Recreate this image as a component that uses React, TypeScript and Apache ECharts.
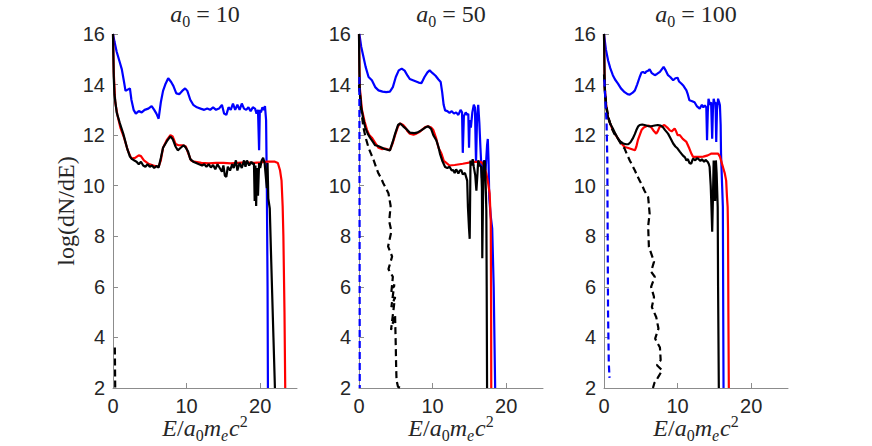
import React, { useEffect, useRef } from "react";
import * as echarts from "echarts";

// ---------- data ----------
const panelTitles = ["10", "50", "100"];
const xMin = 0, xMax = 25, xStep = 10;
const yMin = 2, yMax = 16, yStep = 2;

const blue10 = [[0,16],[0.2,15.7],[0.5,15.3],[0.9,14.9],[1.2,14.6],[1.5,14.1],[1.7,13.75],[2.0,13.8],[2.3,13.85],[2.5,13.4],[2.8,13.0],[3.1,12.85],[3.5,12.95],[3.9,12.9],[4.3,13.0],[4.8,13.05],[5.25,13.15],[5.6,13.0],[5.9,12.85],[6.2,12.65],[6.5,13.3],[6.8,13.75],[7.1,14.0],[7.5,14.25],[7.9,14.1],[8.2,13.95],[8.6,13.65],[9.0,13.62],[9.4,13.75],[9.8,13.85],[10.1,13.75],[10.5,13.4],[10.9,13.2],[11.4,13.1],[11.9,13.05],[12.4,13.0],[12.8,13.05],[13.2,13.0],[13.6,13.1],[14.0,13.0],[14.4,13.05],[14.8,13.2],[15.1,12.85],[15.4,12.8],[15.7,13.1],[16.0,13.0],[16.3,13.25],[16.6,13.0],[16.9,13.2],[17.2,13.0],[17.5,13.25],[17.8,13.05],[18.1,13.0],[18.4,13.1],[18.7,12.95],[19.0,13.1],[19.3,13.05],[19.5,12.85],[19.7,13.0],[19.85,11.4],[19.95,13.0],[20.1,12.9],[20.3,13.1],[20.5,13.0],[20.65,13.15],[20.8,12.6],[20.9,10],[21.0,6],[21.05,2]];
const red10 = [[0,16],[0.1,14.5],[0.3,13.3],[0.6,12.8],[1.0,12.3],[1.5,11.9],[2.0,11.4],[2.5,11.07],[3.0,11.1],[3.5,11.2],[3.8,11.17],[4.2,11.0],[4.8,10.87],[5.5,10.8],[6.2,10.75],[6.5,11.0],[6.8,11.5],[7.3,11.8],[7.8,12.0],[8.1,11.95],[8.5,11.65],[8.9,11.6],[9.5,11.6],[9.9,11.55],[10.2,11.3],[10.6,11.0],[11.0,10.95],[12,10.9],[13,10.88],[14,10.9],[15,10.9],[16,10.88],[17,10.9],[18,10.92],[19,10.9],[20,10.92],[21,10.95],[22.0,10.95],[22.4,10.9],[22.7,10.6],[22.9,10.2],[23.05,9.2],[23.15,8.0],[23.3,5],[23.4,2]];
const black10 = [[0,16],[0.1,14.3],[0.2,13.6],[0.5,12.9],[0.9,12.5],[1.4,12.05],[1.9,11.5],[2.3,11.15],[2.6,11.05],[2.9,11.0],[3.2,10.95],[3.5,10.85],[3.8,10.95],[4.1,10.8],[4.4,10.75],[4.7,10.85],[5.0,10.75],[5.3,10.8],[5.6,10.7],[5.9,10.78],[6.2,10.72],[6.5,11.1],[6.8,11.5],[7.3,11.75],[7.8,11.95],[8.1,11.85],[8.5,11.55],[8.8,11.4],[9.2,11.5],[9.6,11.6],[9.9,11.5],[10.2,11.35],[10.5,11.05],[10.9,10.95],[11.3,10.9],[11.7,10.85],[12.1,10.8],[12.4,10.85],[12.7,10.75],[13.0,10.85],[13.3,10.72],[13.6,10.82],[13.9,10.65],[14.2,10.85],[14.5,10.7],[14.8,10.55],[15.0,10.8],[15.2,10.4],[15.4,10.35],[15.6,10.75],[15.9,10.6],[16.2,10.85],[16.4,10.7],[16.7,11.0],[16.9,10.6],[17.2,10.9],[17.5,10.7],[17.8,11.0],[18.0,10.75],[18.2,11.0],[18.5,10.8],[18.8,10.95],[19.0,10.85],[19.15,10.9],[19.25,9.4],[19.35,10.8],[19.45,9.2],[19.55,10.7],[19.7,9.6],[19.85,10.9],[20.0,10.7],[20.2,11.0],[20.4,11.1],[20.6,10.9],[20.75,10.4],[20.9,9.9],[21.0,10.9],[21.1,9.5],[21.3,9.1],[21.5,7],[21.8,4],[22.0,2]];
const dash10 = [[0.25,3.6],[0.3,2]];
const blueDash10: number[][] = [];

const blue50 = [[0.05,16],[0.3,15.5],[0.6,15.1],[0.9,14.7],[1.3,14.3],[1.75,14.17],[2.2,13.9],[2.65,13.77],[3.2,13.72],[3.7,13.7],[4.2,13.72],[4.6,13.9],[5.0,14.3],[5.4,14.56],[5.8,14.63],[6.2,14.55],[6.6,14.35],[6.9,14.22],[7.5,14.15],[8.1,14.08],[8.5,14.06],[8.9,14.3],[9.3,14.48],[9.6,14.56],[10.0,14.45],[10.4,14.35],[10.8,14.2],[11.1,14.1],[11.3,13.7],[11.5,13.2],[11.7,12.98],[12.0,12.95],[12.3,12.88],[12.6,12.95],[12.9,12.85],[13.2,12.9],[13.5,12.8],[13.8,13.0],[14.0,12.9],[14.1,11.3],[14.25,12.75],[14.5,12.9],[14.7,12.8],[14.85,12.85],[14.95,11.5],[15.05,12.6],[15.2,12.3],[15.4,12.9],[15.6,13.2],[15.75,13.1],[15.9,10.9],[16.05,12.8],[16.2,13.2],[16.35,12.5],[16.5,11.5],[16.7,10.3],[16.85,10.9],[17.0,11.0],[17.2,10.6],[17.4,11.6],[17.5,11.85],[17.6,11.0],[17.7,9.5],[17.9,8.8],[18.1,8.3],[18.3,6],[18.5,2]];
const red50 = [[0,16],[0.1,13.9],[0.4,13.0],[0.75,12.55],[1.1,12.2],[1.4,12.0],[1.75,11.9],[2.2,11.7],[2.65,11.5],[3.1,11.45],[3.55,11.47],[4.2,11.4],[4.6,11.7],[4.9,12.0],[5.3,12.35],[5.6,12.46],[6.0,12.4],[6.3,12.3],[6.6,12.15],[6.9,12.06],[7.4,12.02],[7.8,12.06],[8.2,12.12],[8.5,12.2],[9.0,12.32],[9.4,12.35],[9.8,12.3],[10.1,12.2],[10.5,11.86],[10.8,11.5],[11.2,11.27],[11.5,11.0],[11.7,10.94],[12.3,10.8],[13.0,10.82],[14.1,10.87],[15.5,10.94],[16.6,10.94],[17.0,10.8],[17.3,10.48],[17.55,10.1],[17.75,9.7],[17.9,8.6],[17.95,5],[17.97,2]];
const black50 = [[0,16],[0.05,14.5],[0.1,13.77],[0.3,13.1],[0.55,12.7],[0.85,12.3],[1.2,12.05],[1.5,11.9],[1.85,11.75],[2.2,11.6],[2.5,11.58],[2.9,11.53],[3.5,11.45],[4.2,11.4],[4.6,11.75],[4.9,12.05],[5.3,12.4],[5.6,12.46],[6.0,12.35],[6.4,12.25],[6.9,12.1],[7.5,12.08],[7.9,12.1],[8.5,12.2],[9.0,12.3],[9.4,12.35],[9.8,12.25],[10.1,12.0],[10.5,11.8],[10.8,11.53],[11.0,11.27],[11.3,11.0],[11.7,10.74],[12.0,10.7],[12.3,10.75],[12.6,10.6],[12.8,10.62],[13.0,10.5],[13.2,10.65],[13.5,10.48],[13.7,10.6],[13.9,10.62],[14.1,10.45],[14.4,10.5],[14.6,10.3],[14.7,10.2],[14.8,9.16],[14.95,8.3],[15.04,7.9],[15.1,9.5],[15.15,11.0],[15.3,10.8],[15.45,11.05],[15.6,10.74],[15.8,10.4],[15.95,9.8],[16.1,10.5],[16.2,11.0],[16.4,10.8],[16.6,10.74],[16.7,9.9],[16.75,7.13],[16.85,9.5],[16.95,10.9],[17.1,11.0],[17.2,10.2],[17.3,9.0],[17.35,6],[17.4,2]];
const dash50 = [[0,14.0],[0.3,13.0],[0.6,12.3],[0.95,11.85],[1.3,11.5],[1.65,11.25],[2.0,11.0],[2.3,10.75],[2.65,10.48],[3.0,10.3],[3.3,10.1],[3.65,9.9],[4.0,9.7],[4.3,9.2],[4.1,8.6],[4.4,8.2],[3.95,7.6],[4.5,7.2],[4.0,6.7],[4.6,6.4],[4.4,5.8],[4.8,6.1],[4.4,5.2],[4.9,5.6],[4.35,4.3],[4.9,4.9],[5.0,3.6],[5.05,2.8],[5.1,2.3],[5.3,2.05],[5.6,2.0]];
const blueDash50 = [[0.05,14.3],[0.08,8],[0.1,2]];

const blue100 = [[0,16],[0.25,15.4],[0.55,14.96],[0.85,14.65],[1.2,14.37],[1.5,14.2],[1.9,14.04],[2.3,13.85],[2.8,13.7],[3.2,13.62],[3.5,13.6],[3.9,13.68],[4.2,13.77],[4.5,14.0],[4.85,14.3],[5.1,14.48],[5.3,14.5],[5.55,14.45],[5.75,14.52],[6.0,14.55],[6.2,14.6],[6.5,14.45],[6.9,14.37],[7.2,14.42],[7.6,14.5],[7.9,14.62],[8.1,14.7],[8.4,14.55],[8.7,14.37],[9.0,14.3],[9.4,14.17],[9.7,14.25],[10.0,14.27],[10.2,14.12],[10.5,14.04],[10.8,13.95],[11.2,13.77],[11.4,13.6],[11.6,13.38],[11.9,13.35],[12.3,13.3],[12.6,13.15],[13.0,13.05],[13.3,13.2],[13.5,13.1],[13.7,13.18],[13.9,13.1],[14.0,11.8],[14.1,12.9],[14.2,13.44],[14.4,13.2],[14.55,13.3],[14.7,11.86],[14.8,13.0],[14.9,13.44],[15.05,13.25],[15.15,13.3],[15.25,11.73],[15.35,13.0],[15.5,13.44],[15.65,13.3],[15.75,13.18],[15.85,12.4],[15.9,11.27],[16.05,10],[16.15,9.16],[16.2,5],[16.24,2]];
const red100 = [[0,16],[0.1,13.9],[0.3,13.2],[0.55,12.7],[0.85,12.45],[1.2,12.2],[1.5,12.05],[1.9,11.86],[2.3,11.7],[2.8,11.53],[3.2,11.5],[3.5,11.47],[4.2,11.4],[4.4,11.55],[4.6,11.8],[4.85,12.0],[5.1,12.2],[5.4,12.3],[5.75,12.35],[6.1,12.38],[6.4,12.32],[6.8,12.15],[7.1,12.06],[7.3,12.15],[7.55,12.32],[7.9,12.35],[8.2,12.4],[8.6,12.3],[8.9,12.2],[9.2,12.15],[9.6,12.26],[9.8,12.15],[10.0,12.0],[10.3,12.0],[10.7,11.85],[11.2,11.73],[11.6,11.47],[11.9,11.25],[12.1,11.14],[12.8,11.14],[13.5,11.15],[14.1,11.2],[14.6,11.27],[15.5,11.27],[15.75,11.15],[15.9,11.0],[16.2,10.7],[16.4,10.5],[16.6,10.2],[16.7,9.6],[16.8,9.16],[16.85,8.3],[16.9,5],[16.96,2]];
const black100 = [[0,16],[0.1,13.77],[0.3,13.1],[0.55,12.7],[0.85,12.45],[1.2,12.26],[1.55,12.05],[1.9,11.86],[2.2,11.75],[2.6,11.67],[3.0,11.64],[3.3,11.64],[3.6,11.72],[3.9,11.86],[4.2,12.05],[4.4,12.2],[4.65,12.35],[4.85,12.4],[5.2,12.42],[5.5,12.4],[6.0,12.36],[6.4,12.35],[6.9,12.38],[7.3,12.4],[7.7,12.38],[8.0,12.32],[8.3,12.2],[8.7,12.06],[9.0,11.9],[9.4,11.67],[9.7,11.55],[10.0,11.47],[10.3,11.35],[10.7,11.2],[11.0,11.12],[11.2,11.0],[11.4,11.05],[11.6,10.9],[11.85,10.87],[12.0,11.0],[12.1,11.07],[12.4,11.0],[12.6,11.08],[12.8,11.07],[13.1,10.98],[13.3,11.05],[13.6,10.95],[13.8,11.02],[14.1,10.94],[14.25,10.85],[14.35,10.74],[14.5,10.0],[14.6,9.16],[14.7,8.18],[14.8,9.5],[14.9,11.0],[15.0,10.0],[15.1,9.4],[15.2,11.0],[15.3,10.5],[15.45,9.16],[15.5,6],[15.6,2]];
const dash100 = [[0,14.4],[0.15,13.7],[0.3,13.2],[0.6,12.7],[1.0,12.3],[1.4,12.05],[1.9,11.86],[2.3,11.65],[2.8,11.47],[3.1,11.25],[3.5,11.0],[3.85,10.8],[4.2,10.6],[4.5,10.4],[4.85,10.2],[5.2,10.0],[5.5,9.8],[5.8,9.65],[6.0,9.55],[6.2,8.9],[6.0,8.4],[6.1,7.58],[6.8,7.0],[6.4,6.6],[6.9,6.4],[6.4,6.0],[6.8,5.6],[6.5,5.2],[7.1,4.8],[7.4,4.35],[6.95,3.95],[7.6,3.6],[7.7,3.1],[7.2,2.9],[7.9,2.7],[7.3,2.4],[6.85,2.2],[6.65,2.0]];
const blueDash100 = [[0.05,14.2],[0.2,13.3],[0.35,12.5],[0.45,11],[0.5,8],[0.55,5],[0.65,3],[0.75,2.4]];

const panels = [
  { blue: blue10, red: red10, black: black10, dash: dash10, blueDash: blueDash10 },
  { blue: blue50, red: red50, black: black50, dash: dash50, blueDash: blueDash50 },
  { blue: blue100, red: red100, black: black100, dash: dash100, blueDash: blueDash100 },
];

// ---------- layout / style ----------
const gridLefts = [113, 359, 604];
const gridTop = 34;
const gridW = 184;
const gridH = 354;
const axisColor = "#8c8c8c";
const textColor = "#262626";
const serif = "'Liberation Serif', 'Times New Roman', serif";
const sans = "'Liberation Sans', Arial, sans-serif";

export default function App() {
  const ref = useRef<HTMLDivElement>(null);
  useEffect(() => {
    if (!ref.current) return;
    const chart = echarts.init(ref.current, undefined, { renderer: "svg" });

    const grid = gridLefts.map((l) => ({ left: l, top: gridTop, width: gridW, height: gridH }));
    const xAxis = gridLefts.map((_, i) => ({
      type: "value",
      gridIndex: i,
      min: xMin,
      max: xMax,
      interval: xStep,
      axisLine: { show: true, onZero: false, lineStyle: { color: axisColor, width: 1 } },
      axisTick: { show: true, inside: true, length: 5, lineStyle: { color: axisColor } },
      axisLabel: { fontFamily: sans, fontSize: 20, color: textColor, margin: 8, showMaxLabel: false },
      splitLine: { show: false },
    }));
    const yAxis = gridLefts.map((_, i) => ({
      type: "value",
      gridIndex: i,
      min: yMin,
      max: yMax,
      interval: yStep,
      axisLine: { show: true, onZero: false, lineStyle: { color: axisColor, width: 1 } },
      axisTick: { show: true, inside: true, length: 5, lineStyle: { color: axisColor } },
      axisLabel: { fontFamily: sans, fontSize: 20, color: textColor, margin: 8 },
      splitLine: { show: false },
    }));

    const mk = (data: number[][], i: number, color: string, dashed: boolean) => ({
      type: "line",
      xAxisIndex: i,
      yAxisIndex: i,
      data,
      showSymbol: false,
      symbol: "none",
      clip: true,
      lineStyle: { color, width: 2.2, type: dashed ? [7, 4] : "solid" },
      z: 3,
    });
    const series: any[] = [];
    panels.forEach((p, i) => {
      series.push(mk(p.blue, i, "#0000ff", false));
      series.push(mk(p.red, i, "#ff0000", false));
      series.push(mk(p.black, i, "#000000", false));
      series.push(mk(p.dash, i, "#000000", true));
      if (p.blueDash.length) series.push(mk(p.blueDash, i, "#0000ff", true));
    });

    const mathRich = {
      i: { fontFamily: serif, fontStyle: "italic", fontSize: 24, fill: textColor, lineHeight: 30 },
      n: { fontFamily: serif, fontSize: 24, fill: textColor, lineHeight: 30 },
      s: { fontFamily: serif, fontStyle: "normal", fontSize: 16, fill: textColor, lineHeight: 18, verticalAlign: "bottom" },
      se: { fontFamily: serif, fontStyle: "italic", fontSize: 16, fill: textColor, lineHeight: 18, verticalAlign: "bottom", padding: [0, 1, 0, 0] },
      p: { fontFamily: serif, fontStyle: "normal", fontSize: 16, fill: textColor, lineHeight: 19, verticalAlign: "top" },
    };

    const graphic: any[] = [];
    gridLefts.forEach((l, i) => {
      graphic.push({
        type: "text",
        x: l + gridW / 2,
        y: 14,
        style: {
          text: `{i|a}{s|0}{n| = ${panelTitles[i]}}`,
          rich: mathRich,
          align: "center",
          verticalAlign: "middle",
        },
      });
      graphic.push({
        type: "text",
        x: l + gridW / 2,
        y: 428,
        style: {
          text: "{i|E}{n|/}{i|a}{s|0}{i|m}{se|e}{i|c}{p|2}",
          rich: mathRich,
          align: "center",
          verticalAlign: "middle",
        },
      });
    });
    graphic.push({
      type: "text",
      x: 66,
      y: 211,
      rotation: Math.PI / 2,
      style: {
        text: "log(dN/dE)",
        font: `24px ${serif}`,
        fill: textColor,
        align: "center",
        verticalAlign: "middle",
      },
    });

    chart.setOption({
      animation: false,
      backgroundColor: "#ffffff",
      grid,
      xAxis,
      yAxis,
      series,
      graphic,
    });
    return () => chart.dispose();
  }, []);
  return (
    <div
      ref={ref}
      style={{ position: "fixed", left: 0, top: 0, width: 872, height: 446, background: "#fff" }}
    />
  );
}
